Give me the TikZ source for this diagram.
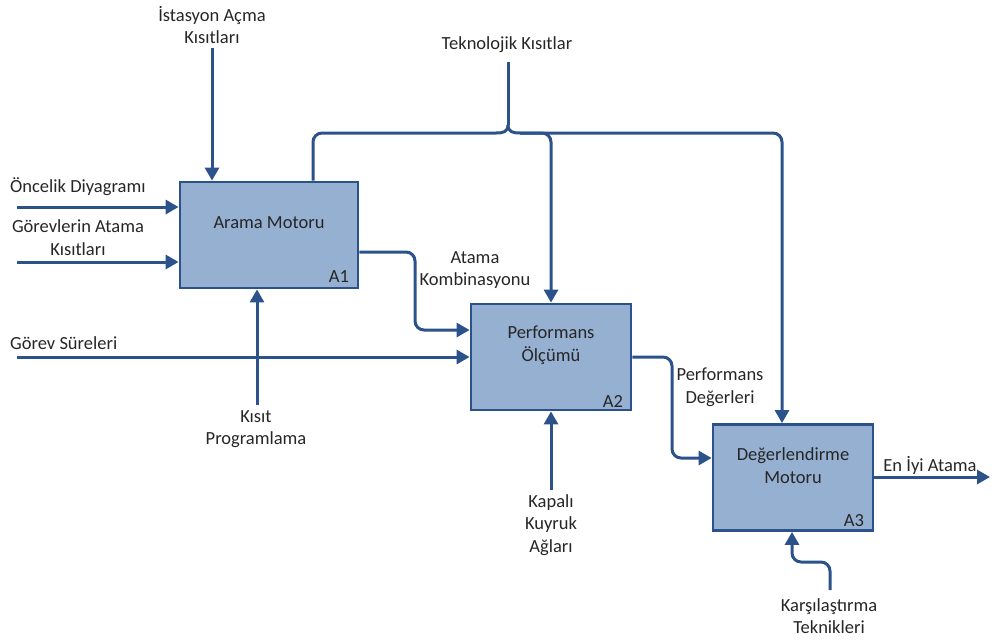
\documentclass[tikz,border=0pt]{standalone}
\usepackage{fontspec}
\setmainfont{Carlito}
\usetikzlibrary{arrows.meta}
\definecolor{ln}{RGB}{44,82,140}
\definecolor{bx}{RGB}{149,176,209}
\definecolor{tx}{RGB}{38,38,38}
\begin{document}
\begin{tikzpicture}[x=1pt,y=-1pt,
  lbl/.style={font=\fontsize{18.5}{22.5}\selectfont, text=tx, align=center, inner sep=0pt},
  box/.style={draw=ln, fill=bx, line width=2.8pt, minimum width=#1, minimum height=106pt, inner sep=0pt},
  box/.default=160pt,
  conn/.style={draw=ln, line width=3pt, rounded corners=9pt},
  arr/.style={conn, -{Triangle[length=13pt,width=14pt]}}]
\useasboundingbox (0,0) rectangle (992,641);
% boxes
\node[box=178pt] (A1) at (269,235) {};
\node[box=160pt] (A2) at (551,357) {};
\node[box=160pt] (A3) at (793,477.5) {};
\node[lbl] (t1) at (269,223) {Arama Motoru};
\node[lbl] (t2) at (551,345) {Performans\\Ölçümü};
\node[lbl] (t3) at (793,465.5) {Değerlendirme\\Motoru};
\node[lbl] (n1) at (339,277) {A1};
\node[lbl] (n2) at (613,401) {A2};
\node[lbl] (n3) at (854,521) {A3};
% labels
\node[lbl] (ist) at (212,25) {İstasyon Açma\\Kısıtları};
\node[lbl] (tek) at (507,45) {Teknolojik Kısıtlar};
\node[lbl,anchor=west] (onc) at (10,187) {Öncelik Diyagramı};
\node[lbl] (gor) at (78,237.5) {Görevlerin Atama\\Kısıtları};
\node[lbl,anchor=west] (sur) at (10,343) {Görev Süreleri};
\node[lbl] (kis) at (256,429) {Kısıt\\Programlama};
\node[lbl] (ata) at (475,270) {Atama\\Kombinasyonu};
\node[lbl] (per) at (720,387) {Performans\\Değerleri};
\node[lbl] (eni) at (930,465) {En İyi Atama};
\node[lbl] (kar) at (829,616) {Karşılaştırma\\Teknikleri};
\node[lbl] (kap) at (551,525) {Kapalı\\Kuyruk\\Ağları};
% coordinates
\coordinate (istS) at (212,48);
\coordinate (oncS) at (17,207);
\coordinate (gorS) at (17,262);
\coordinate (kisS) at (257,405);
\coordinate (surS) at (17,357);
\coordinate (a1o) at (0,252);
\coordinate (b12) at (415,330);
\coordinate (tkS) at (508,62);
\coordinate (tkC) at (508,125);
\coordinate (tkL) at (496,133);
\coordinate (tkR) at (520,133);
\coordinate (a1ctl) at (313,0);
\coordinate (a3ctl) at (782,0);
\coordinate (a2o) at (0,357);
\coordinate (b23) at (672,458);
\coordinate (a3o) at (0,477);
\coordinate (endE) at (990,477);
\coordinate (karS) at (830,590);
\coordinate (karB) at (792,562);
\coordinate (kapS) at (551,490);
% connectors
\draw[arr] (istS) -- (istS |- A1.north);
\draw[arr] (oncS) -- (oncS -| A1.west);
\draw[arr] (gorS) -- (gorS -| A1.west);
\draw[arr] (kisS) -- (kisS |- A1.south);
\draw[arr] (surS) -- (surS -| A2.west);
\draw[arr] (A1.east |- a1o) -| (b12) -- (b12 -| A2.west);
\draw[conn] (tkS) -- (tkC);
\draw[conn,rounded corners=0pt] (tkC) .. controls (508,132) and (503,133) .. (tkL);
\draw[conn,rounded corners=0pt] (tkC) .. controls (508,132) and (513,133) .. (tkR);
\draw[conn] (tkL) -| (A1.north -| a1ctl);
\draw[arr] (tkR) -| (A2.north);
\draw[arr] (tkR) -| (A3.north -| a3ctl);
\draw[arr] (A2.east |- a2o) -| (b23) -- (b23 -| A3.west);
\draw[arr] (A3.east |- a3o) -- (endE);
\draw[arr] (karS) |- (karB) -- (karB |- A3.south);
\draw[arr] (kapS) -- (kapS |- A2.south);
\end{tikzpicture}
\end{document}
